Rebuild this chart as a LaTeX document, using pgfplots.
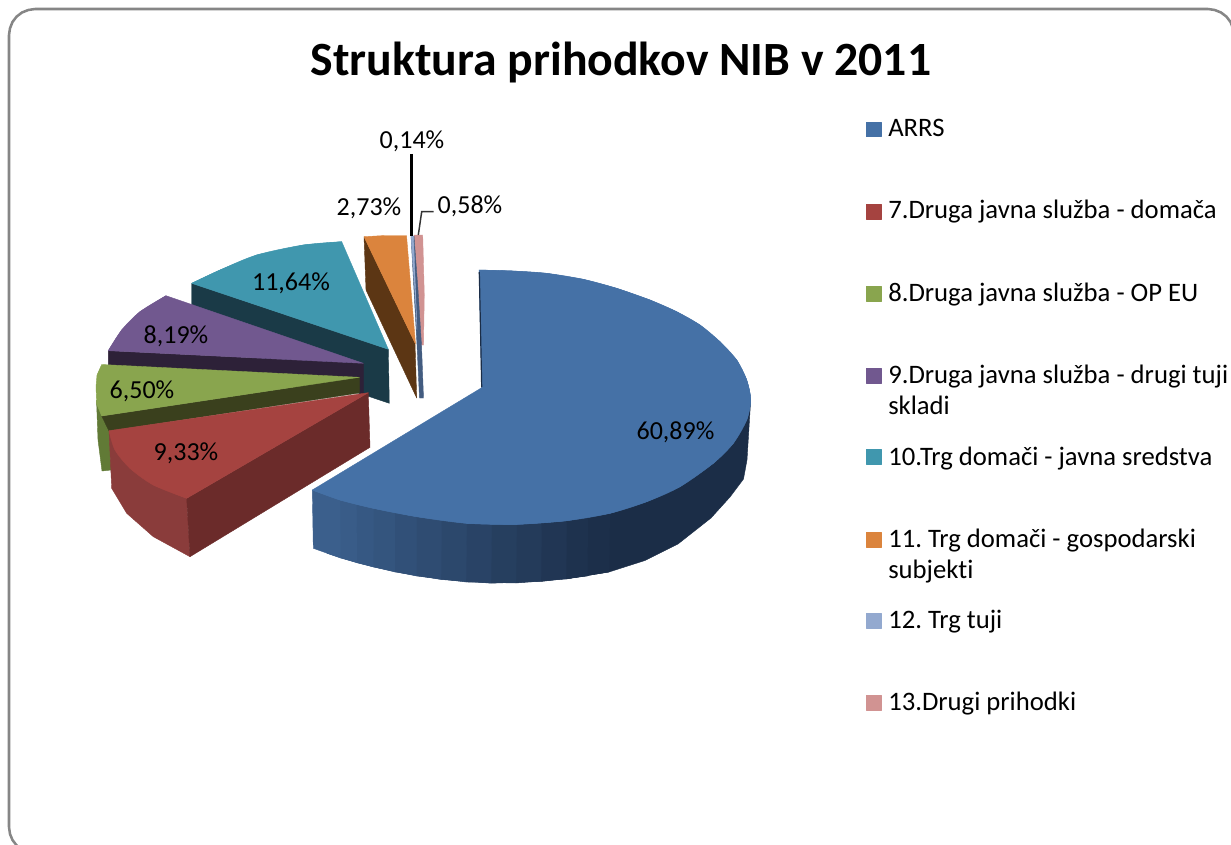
\documentclass[border=0pt]{standalone}
\usepackage{pgfplots}
\pgfplotsset{compat=1.18}
\usepackage{fontspec}
\setmainfont{Carlito}[Ligatures=NoCommon]
\definecolor{sD}{HTML}{1B2D47}
\definecolor{sL}{HTML}{3C618F}
\definecolor{cBlue}{HTML}{4571A6}
\definecolor{cRed}{HTML}{A54340}
\definecolor{cRedD}{HTML}{6B2B2A}
\definecolor{cRedS}{HTML}{8A3C3B}
\definecolor{cGreen}{HTML}{89A54E}
\definecolor{cGreenD}{HTML}{3A401D}
\definecolor{cGreenS}{HTML}{617A36}
\definecolor{cPurple}{HTML}{71588F}
\definecolor{cPurpleD}{HTML}{2D2138}
\definecolor{cTeal}{HTML}{4097AE}
\definecolor{cTealD}{HTML}{1A3A47}
\definecolor{cOrange}{HTML}{DB843D}
\definecolor{cBrown}{HTML}{5C3614}
\definecolor{cLight}{HTML}{93A9CF}
\definecolor{cBand}{HTML}{435C80}
\definecolor{cPink}{HTML}{D19392}
\definecolor{cFrame}{HTML}{868686}
\newcommand{\legtxt}{\fontsize{20pt}{22pt}\selectfont\frenchspacing}
\newcommand{\lbl}{\fontsize{19.5pt}{22pt}\selectfont}
\pgfplotsset{poly/.style={fill=#1,draw=#1,line width=0.3pt,line join=round,no markers,forget plot}}
\begin{document}
\begin{tikzpicture}
\begin{axis}[hide axis,scale only axis,width=923.25pt,height=633.75pt,
  xmin=0,xmax=1231,ymin=0,ymax=845,y dir=reverse,clip=true]
\coordinate (PA) at (axis cs:0,0);
\coordinate (PB) at (axis cs:1231,845);
% frame
\addplot[draw=cFrame,line width=1.9pt,no markers,forget plot,line join=round] coordinates {
 (22,850)(16.6,845.4)(12.5,840)(10,834)(9,827)(9,35)(10,28.3)(12.5,22)(16.6,16.6)(22,12.5)(28.3,10)(35,9)
 (1208,9)(1214.7,10)(1221,12.5)(1226.4,16.6)(1230.5,22)(1233,28.3)(1234,35)};
% teal
\addplot[poly=cTealD] coordinates {(191.7,283.3)(388.3,349.3)(389.3,403.3)(191.7,337)} --cycle;
\addplot[poly=cTeal] coordinates {(388.3,349.3)(341.7,241.7)(303.3,245)(256.7,255)(220,270)(191.7,283.3)} --cycle;
\addplot[poly=cTeal,smooth] coordinates {(341.7,241.7)(303.3,245)(256.7,255)(220,270)(191.7,283.3)} --cycle;
% orange
\addplot[poly=cBrown] coordinates {(364,236.7)(415,343.3)(416.7,398)(366,290)} --cycle;
\addplot[poly=cOrange] coordinates {(364,236.7)(385,235.5)(406.5,235.5)(415.5,344)} --cycle;
% pink, grey band, light blue
\addplot[poly=cPink] coordinates {(414,235)(422.7,235)(424.3,295)(423.5,345)(421,345)} --cycle;
\addplot[poly=cBand] coordinates {(411,236)(414,236)(418,290)(421.5,345)(423.5,398)(419.5,398)(417,345)} --cycle;
\addplot[poly=cLight] coordinates {(411,236)(413.5,236)(417,330)(415.5,300)} --cycle;
% purple
\addplot[poly=cPurpleD] coordinates {(108.3,350.7)(363.3,363.3)(363.3,396)(359,393)(108.3,370)} --cycle;
\addplot[poly=cPurple] coordinates {(363.3,363.3)(166,295.7)(140,311.7)(121.7,330)(108.3,350.7)} --cycle;
\addplot[poly=cPurple,smooth] coordinates {(166,295.7)(140,311.7)(121.7,330)(108.3,350.7)} --cycle;
% green
\addplot[poly=cGreenS] coordinates {(96.5,400)(101.7,416)(110,431)(111,470)(102,471)(98,440)} --cycle;
\addplot[poly=cGreenD] coordinates {(101.7,416)(359.3,377.3)(359.3,393)(109,431)} --cycle;
\addplot[poly=cGreen] coordinates {(359.3,377.3)(101.7,364.5)(97,375)(96,386.7)(96.7,404)(101.7,416)} --cycle;
% red
\addplot[poly=cRedS] coordinates {(109,430.7)(115,450)(130,468.3)(153.3,485)(186.7,498.3)(190,556.7)(153.3,536.7)(126.7,513.3)(111.7,488.3)} --cycle;
\addplot[poly=cRedD] coordinates {(186.7,498.3)(368.3,392.7)(370,447.3)(190,556.7)} --cycle;
\addplot[poly=cRed] coordinates {(368.3,392.7)(109,430.7)(115,450)(130,468.3)(153.3,485)(186.7,498.3)} --cycle;
\addplot[poly=cRed,smooth] coordinates {(109,430.7)(115,450)(130,468.3)(153.3,485)(186.7,498.3)} --cycle;
% blue side strips, painted right to left, each reaching under the next
\addplot[poly=sD] coordinates {(750.7,400)(746.7,420)(733.3,443.3)(713.3,463.3)(680,486.7)(646.7,501.7)(610,513.3)(566.7,520.7)(566,579)(609,572)(645,560.5)(678,544)(711,518)(730,497)(743.5,479)(747,460)} --cycle;
\addplot[poly=sL!4!sD] coordinates {(610,513.3)(566.7,520.7)(566,579)(609,572)} --cycle;
\addplot[poly=sL!10!sD] coordinates {(588,517.6)(541.5,523)(541,581.5)(587.5,576)} --cycle;
\addplot[poly=sL!18!sD] coordinates {(566.7,520.7)(516.7,524.3)(516,583)(566,579)} --cycle;
\addplot[poly=sL!26!sD] coordinates {(541.5,523)(491.7,524.4)(491,583.2)(541,581.5)} --cycle;
\addplot[poly=sL!34!sD] coordinates {(516.7,524.3)(466.7,523.3)(466,582)(516,583)} --cycle;
\addplot[poly=sL!43!sD] coordinates {(491.7,524.4)(441.5,520.6)(441,579.5)(491,583.2)} --cycle;
\addplot[poly=sL!52!sD] coordinates {(466.7,523.3)(416.7,516.7)(416.5,576)(466,582)} --cycle;
\addplot[poly=sL!60!sD] coordinates {(441.5,520.6)(395,512.8)(395,572)(441,579.5)} --cycle;
\addplot[poly=sL!68!sD] coordinates {(416.7,516.7)(373.3,508.3)(373.5,567)(416.5,576)} --cycle;
\addplot[poly=sL!76!sD] coordinates {(395,512.8)(356.5,504.4)(357,562.8)(395,572)} --cycle;
\addplot[poly=sL!83!sD] coordinates {(373.3,508.3)(340,500)(340.5,558)(373.5,567)} --cycle;
\addplot[poly=sL!90!sD] coordinates {(356.5,504.4)(326,495.2)(327,553.3)(357,562.8)} --cycle;
\addplot[poly=sL!96!sD] coordinates {(340,500)(312.3,490)(313.3,548.3)(340.5,558)} --cycle;
% blue top
\addplot[poly=cBlue] coordinates {(481.7,387.7)(479,270)(513.3,271)(546.7,273.3)(583.3,279.3)(616.7,288.3)(650,300)(676.7,311.7)(700,325)(720,341.7)(736.7,360)(746.7,380)(750.7,400)(746.7,420)(733.3,443.3)(713.3,463.3)(680,486.7)(646.7,501.7)(610,513.3)(566.7,520.7)(516.7,524.3)(466.7,523.3)(416.7,516.7)(373.3,508.3)(340,500)(312.3,490)} --cycle;
\addplot[poly=cBlue,smooth] coordinates {(479,270)(513.3,271)(546.7,273.3)(583.3,279.3)(616.7,288.3)(650,300)(676.7,311.7)(700,325)(720,341.7)(736.7,360)(746.7,380)(750.7,400)(746.7,420)} --cycle;
\addplot[poly=cBlue,smooth] coordinates {(736.7,360)(746.7,380)(750.7,400)(746.7,420)(733.3,443.3)(713.3,463.3)(680,486.7)(646.7,501.7)(610,513.3)(566.7,520.7)(516.7,524.3)(466.7,523.3)} --cycle;
\addplot[poly=cBlue,smooth] coordinates {(566.7,520.7)(516.7,524.3)(466.7,523.3)(416.7,516.7)(373.3,508.3)(340,500)(312.3,490)} --cycle;
\addplot[draw=sD,line width=0.9pt,no markers,forget plot] coordinates {(479.3,272)(481.7,387)};
% leaders
\addplot[draw=black,line width=2.2pt,no markers,forget plot] coordinates {(411.7,154)(411.7,236)};
\addplot[draw=black!80,line width=1.1pt,no markers,forget plot] coordinates {(418.3,235)(421.7,211.7)(433.5,211.7)};
% legend squares
\addplot[poly=cBlue] coordinates {(866,122)(881,122)(881,136.7)(866,136.7)} --cycle;
\addplot[poly=cRed] coordinates {(866,204)(881,204)(881,218.7)(866,218.7)} --cycle;
\addplot[poly=cGreen] coordinates {(866,286)(881,286)(881,300.7)(866,300.7)} --cycle;
\addplot[poly=cPurple] coordinates {(866,368)(881,368)(881,382.7)(866,382.7)} --cycle;
\addplot[poly=cTeal] coordinates {(866,449.3)(881,449.3)(881,464)(866,464)} --cycle;
\addplot[poly=cOrange] coordinates {(866,532)(881,532)(881,546.7)(866,546.7)} --cycle;
\addplot[poly=cLight] coordinates {(866,613)(881,613)(881,627.7)(866,627.7)} --cycle;
\addplot[poly=cPink] coordinates {(866,695)(881,695)(881,709.7)(866,709.7)} --cycle;
% text
\node[anchor=base,inner sep=0pt] at (axis cs:621,76) {\fontsize{35.8pt}{38pt}\selectfont\bfseries Struktura prihodkov NIB v 2011};
\node[anchor=base west,inner sep=0pt] at (axis cs:888,137) {\legtxt ARRS};
\node[anchor=base west,inner sep=0pt] at (axis cs:888,219) {\legtxt 7.Druga javna služba - domača};
\node[anchor=base west,inner sep=0pt] at (axis cs:888,301) {\legtxt 8.Druga javna služba - OP EU};
\node[anchor=base west,inner sep=0pt] at (axis cs:888,383) {\legtxt 9.Druga javna služba - drugi tuji};
\node[anchor=base west,inner sep=0pt] at (axis cs:888,414.5) {\legtxt skladi};
\node[anchor=base west,inner sep=0pt] at (axis cs:888,465) {\legtxt 10.Trg domači - javna sredstva};
\node[anchor=base west,inner sep=0pt] at (axis cs:888,547) {\legtxt 11. Trg domači - gospodarski};
\node[anchor=base west,inner sep=0pt] at (axis cs:888,578.5) {\legtxt subjekti};
\node[anchor=base west,inner sep=0pt] at (axis cs:888,628.5) {\legtxt 12. Trg tuji};
\node[anchor=base west,inner sep=0pt] at (axis cs:888,710.5) {\legtxt 13.Drugi prihodki};
% data labels
\node[anchor=base,inner sep=0pt] at (axis cs:675.5,439) {\lbl 60,89\%};
\node[anchor=base,inner sep=0pt] at (axis cs:186,460) {\lbl 9,33\%};
\node[anchor=base,inner sep=0pt] at (axis cs:142,398) {\lbl 6,50\%};
\node[anchor=base,inner sep=0pt] at (axis cs:176,343) {\lbl 8,19\%};
\node[anchor=base,inner sep=0pt] at (axis cs:291,290) {\lbl 11,64\%};
\node[anchor=base,inner sep=0pt] at (axis cs:369,215) {\lbl 2,73\%};
\node[anchor=base,inner sep=0pt] at (axis cs:412,149) {\lbl 0,14\%};
\node[anchor=base,inner sep=0pt] at (axis cs:470,214) {\lbl 0,58\%};
\end{axis}
\pgfresetboundingbox
\path[use as bounding box] (PA) rectangle (PB);
\end{tikzpicture}
\end{document}
